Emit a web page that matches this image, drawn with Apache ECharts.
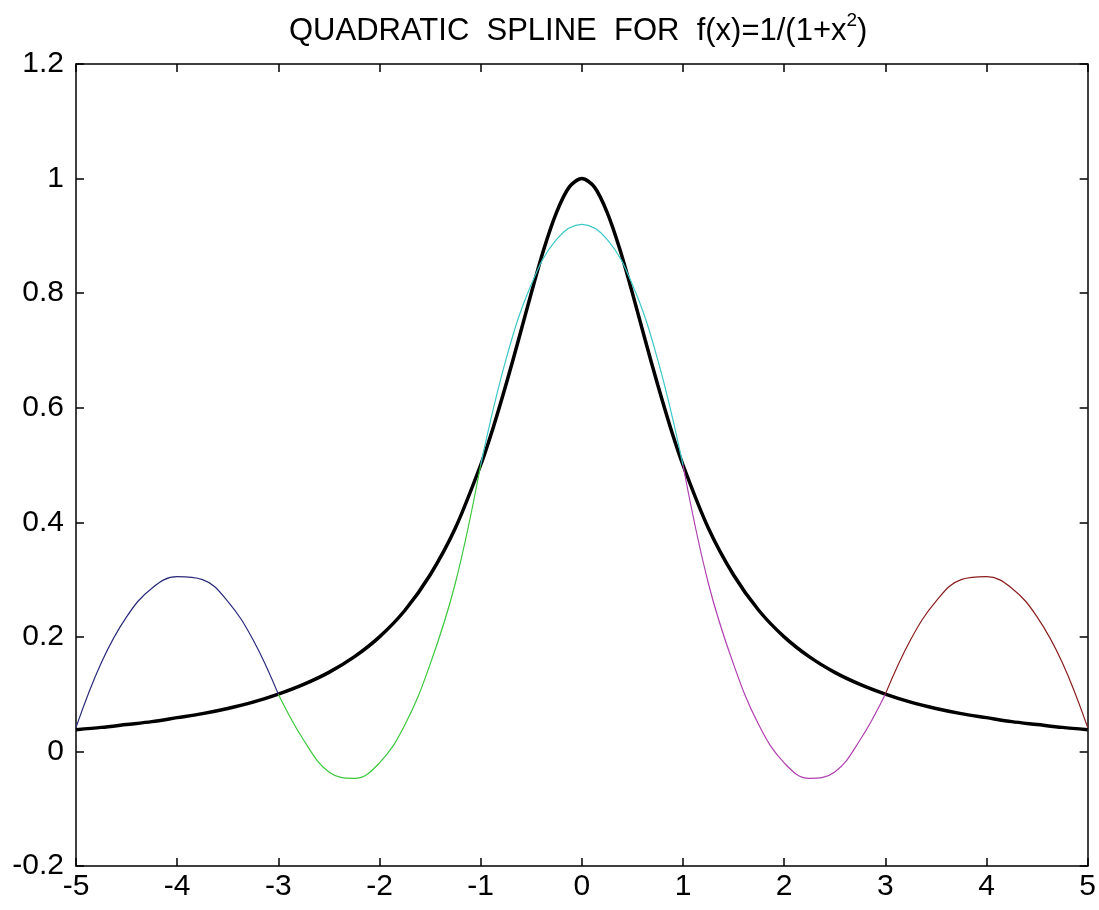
<!DOCTYPE html>
<html>
<head>
<meta charset="utf-8">
<script src="https://cdn.jsdelivr.net/npm/echarts@6/dist/echarts.min.js"></script>
<style>html,body{margin:0;padding:0;background:#fff;}#c{width:1099px;height:910px;}</style>
</head>
<body>
<div id="c"></div>
<script>
// f(x) = 1/(1+x^2)
const xF = [-5,-4.75,-4.5,-4.25,-4,-3.75,-3.5,-3.25,-3,-2.75,-2.5,-2.25,-2,-1.75,-1.5,-1.25,-1,-0.875,-0.75,-0.625,-0.5,-0.375,-0.25,-0.125,0,0.125,0.25,0.375,0.5,0.625,0.75,0.875,1,1.25,1.5,1.75,2,2.25,2.5,2.75,3,3.25,3.5,3.75,4,4.25,4.5,4.75,5];
const yF = [0.038,0.042,0.047,0.052,0.059,0.066,0.075,0.086,0.100,0.117,0.138,0.165,0.200,0.246,0.308,0.390,0.500,0.566,0.640,0.719,0.800,0.877,0.941,0.985,1.000,0.985,0.941,0.877,0.800,0.719,0.640,0.566,0.500,0.390,0.308,0.246,0.200,0.165,0.138,0.117,0.100,0.086,0.075,0.066,0.059,0.052,0.047,0.042,0.038];

// quadratic spline pieces
const xBlue = [-5,-4.75,-4.5,-4.25,-4,-3.75,-3.5,-3.25,-3];
const yBlue = [0.042,0.155,0.235,0.285,0.305,0.300,0.262,0.195,0.100];
const xGreen = [-3,-2.75,-2.5,-2.25,-2,-1.75,-1.5,-1.25,-1];
const yGreen = [0.100,0.020,-0.036,-0.047,-0.020,0.046,0.152,0.294,0.500];
const xCyan = [-1,-0.75,-0.5,-0.25,0,0.25,0.5,0.75,1];
const yCyan = [0.500,0.684,0.815,0.894,0.920,0.894,0.815,0.684,0.500];
const xMagenta = [1,1.25,1.5,1.75,2,2.25,2.5,2.75,3];
const yMagenta = [0.500,0.294,0.152,0.046,-0.020,-0.047,-0.036,0.020,0.100];
const xRed = [3,3.25,3.5,3.75,4,4.25,4.5,4.75,5];
const yRed = [0.100,0.195,0.262,0.300,0.305,0.285,0.235,0.155,0.042];

const xTickLabels = ['-5','-4','-3','-2','-1','0','1','2','3','4','5'];
const yTickLabels = ['-0.2','0','0.2','0.4','0.6','0.8','1','1.2'];

const zip = (xs, ys) => xs.map((x, i) => [x, ys[i]]);
const FONT = 'Liberation Sans';

const pieces = [
  [xBlue, yBlue, '#2a2a7a'],
  [xGreen, yGreen, '#3cc83c'],
  [xCyan, yCyan, '#3cc8c8'],
  [xMagenta, yMagenta, '#b040b0'],
  [xRed, yRed, '#8a1e1e']
];

const chart = echarts.init(document.getElementById('c'), null, {renderer: 'canvas'});
const axisCommon = {
  axisLine: {show: true, onZero: false, lineStyle: {color: '#000', width: 1.5}},
  axisTick: {show: true, inside: true, length: 8, lineStyle: {color: '#000', width: 1.5}},
  splitLine: {show: false}
};
chart.setOption({
  animation: false,
  backgroundColor: '#fff',
  title: {
    text: '{a|QUADRATIC  SPLINE  FOR  f(x)=1/(1+x}{s|2}{a|)}',
    left: 284, top: 6,
    textStyle: {
      fontWeight: 'normal',
      rich: {
        a: {fontFamily: FONT, fontSize: 31, fontWeight: 'normal', color: '#000', lineHeight: 40},
        s: {fontFamily: FONT, fontSize: 19, fontWeight: 'normal', color: '#000', lineHeight: 19, verticalAlign: 'top'}
      }
    }
  },
  grid: {left: 76, right: 9, top: 64, bottom: 44, containLabel: false},
  xAxis: [
    Object.assign({type: 'value', position: 'bottom', min: -5, max: 5, interval: 1,
      axisLabel: {fontFamily: FONT, fontSize: 30, color: '#000', margin: 6,
        formatter: (v) => xTickLabels[Math.round(v + 5)]}}, axisCommon),
    Object.assign({type: 'value', position: 'top', min: -5, max: 5, interval: 1,
      axisLabel: {show: false}}, axisCommon)
  ],
  yAxis: [
    Object.assign({type: 'value', position: 'left', min: -0.2, max: 1.2, interval: 0.2,
      axisLabel: {fontFamily: FONT, fontSize: 30, color: '#000', margin: 12,
        formatter: (v) => yTickLabels[Math.round((v + 0.2) / 0.2)]}}, axisCommon),
    Object.assign({type: 'value', position: 'right', min: -0.2, max: 1.2, interval: 0.2,
      axisLabel: {show: false}}, axisCommon)
  ],
  series: [
    {type: 'line', data: zip(xF, yF), smooth: 0.3, symbol: 'none',
      lineStyle: {color: '#000', width: 3.5}, z: 2}
  ].concat(pieces.map(([xs, ys, c]) => ({
    type: 'line', data: zip(xs, ys), smooth: 0.4, symbol: 'none',
    lineStyle: {color: c, width: 1.2}, z: 3
  })))
});
</script>
</body>
</html>
